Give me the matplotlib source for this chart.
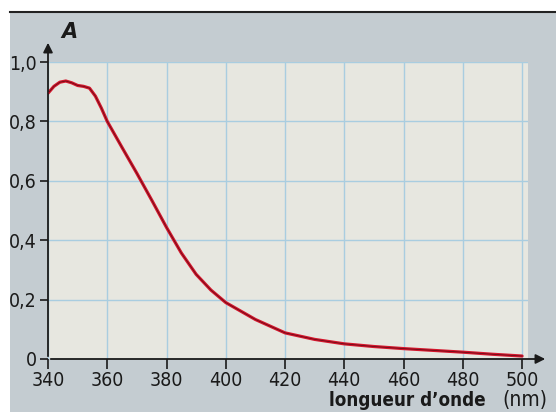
import numpy as np
import matplotlib
matplotlib.use("Agg")
import matplotlib.pyplot as plt
from matplotlib.patches import Rectangle

# absorbance spectrum
wavelength = [340, 342, 344, 346, 348, 350, 352, 354, 356, 358, 360, 365, 370, 375,
              380, 385, 390, 395, 400, 410, 420, 430, 440, 450, 460, 470, 480, 490, 500]
absorbance = [0.895, 0.918, 0.932, 0.936, 0.930, 0.921, 0.918, 0.912, 0.885, 0.845,
              0.800, 0.712, 0.625, 0.535, 0.443, 0.357, 0.285, 0.232, 0.190, 0.133,
              0.088, 0.066, 0.051, 0.042, 0.035, 0.029, 0.023, 0.016, 0.010]
x_ticks = [340, 360, 380, 400, 420, 440, 460, 480, 500]
y_ticks = [0, 0.2, 0.4, 0.6, 0.8, 1.0]
y_labels = ['0', '0,2', '0,4', '0,6', '0,8', '1,0']

narrow = ['DejaVu Sans']

fig = plt.figure(figsize=(5.56, 4.12), dpi=100, facecolor='#c4ccd1')
ax = fig.add_axes([48/556, 53/412, 480/556, 297/412])
ax.set_facecolor('#e7e7e0')

ax.plot(wavelength, absorbance, color='#d4162c', lw=2.3, zorder=3, solid_capstyle='round')
ax.plot(wavelength, absorbance, color='#6a0c18', lw=0.6, zorder=4)

ax.set_xlim(340, 502)
ax.set_ylim(0, 1.0)
ax.set_xticks(x_ticks)
ax.set_yticks(y_ticks)
ax.set_yticklabels(y_labels)
ax.grid(True, color='#a9cde0', lw=1.0)
ax.set_axisbelow(True)

for s in ['top', 'right', 'left', 'bottom']:
    ax.spines[s].set_visible(False)

ax.tick_params(axis='x', direction='out', length=7, width=1.2, colors='#1a1a1a', pad=2)
ax.tick_params(axis='y', direction='out', length=6, width=1.2, colors='#1a1a1a', pad=2)
for lab in ax.get_xticklabels() + ax.get_yticklabels():
    lab.set_family(narrow)
    lab.set_fontstretch('condensed')
    lab.set_fontsize(14)

# axis arrows
ax.annotate('', xy=(548/556, 53/412), xytext=(48/556, 53/412), xycoords='figure fraction',
            arrowprops=dict(arrowstyle='-|>', color='#1a1a1a', lw=1.3, mutation_scale=14))
ax.annotate('', xy=(48/556, 372/412), xytext=(48/556, 53/412), xycoords='figure fraction',
            arrowprops=dict(arrowstyle='-|>', color='#1a1a1a', lw=1.3, mutation_scale=14))

fig.text(61/556, 374/412, 'A', fontsize=15, fontweight='bold', fontstyle='italic',
         color='#1a1a1a', ha='left', va='baseline')
fig.text(486/556, 6/412, 'longueur d\u2019onde', fontsize=13.5, fontweight='bold',
         family=narrow, stretch='condensed', color='#1a1a1a', ha='right', va='baseline')
fig.text(547/556, 6/412, '(nm)', fontsize=15, family=narrow, stretch='condensed',
         color='#1a1a1a', ha='right', va='baseline')

# white scan margins
fig.patches.append(Rectangle((0, 0), 10/556, 1, transform=fig.transFigure,
                             facecolor='white', edgecolor='none', zorder=10))
fig.patches.append(Rectangle((0, 400/412), 1, 12/412, transform=fig.transFigure,
                             facecolor='white', edgecolor='none', zorder=10))
fig.add_artist(plt.Line2D([10/556, 1], [400/412, 400/412], color='#222222', lw=1.5, zorder=11))

fig.savefig('out.png', dpi=100, facecolor=fig.get_facecolor())
